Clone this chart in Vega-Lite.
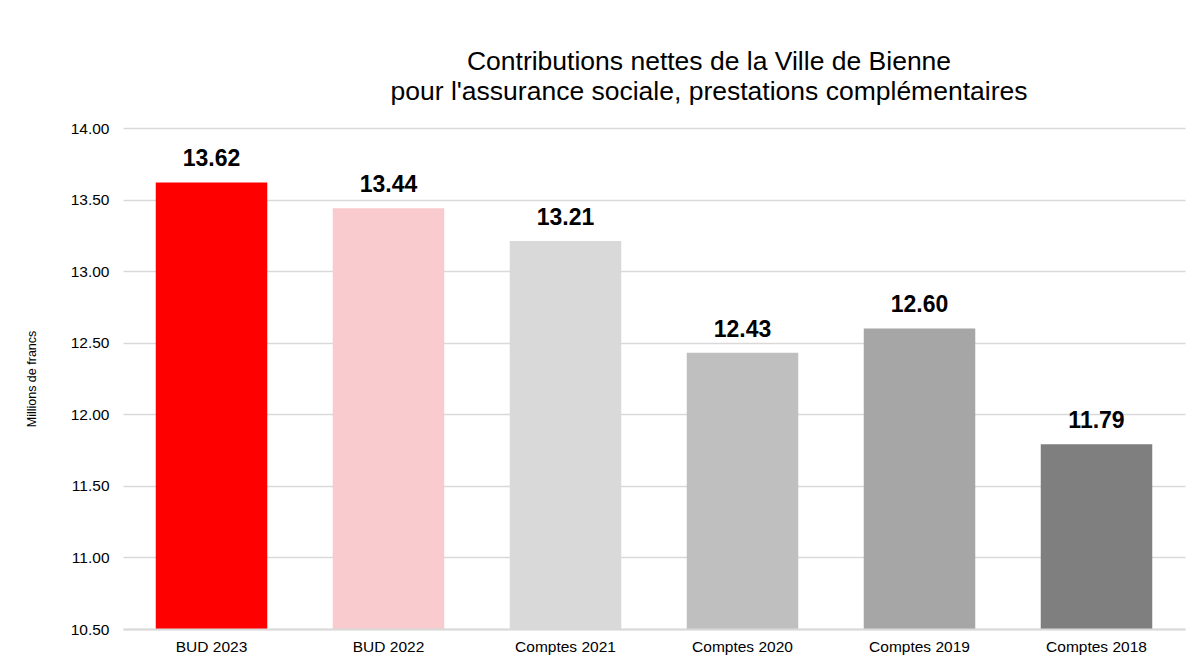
{
  "$schema": "https://vega.github.io/schema/vega-lite/v6.json",
  "autosize": "none",
  "width": 1062,
  "height": 501,
  "padding": {"left": 123, "top": 128, "right": 15, "bottom": 36},
  "background": "white",
  "config": {
    "font": "Liberation Sans",
    "view": {"stroke": null}
  },
  "title": {
    "text": ["Contributions nettes de la Ville de Bienne", "pour l'assurance sociale, prestations complémentaires"],
    "fontSize": 26.5,
    "fontWeight": "normal",
    "color": "#000000",
    "font": "Liberation Sans",
    "anchor": "middle",
    "baseline": "bottom",
    "offset": -11,
    "dx": 55,
    "lineHeight": 30
  },
  "data": {
    "values": [
      {"cat": "BUD 2023", "value": 13.62, "color": "#FF0000"},
      {"cat": "BUD 2022", "value": 13.44, "color": "#F9CACE"},
      {"cat": "Comptes 2021", "value": 13.21, "color": "#D9D9D9"},
      {"cat": "Comptes 2020", "value": 12.43, "color": "#BFBFBF"},
      {"cat": "Comptes 2019", "value": 12.60, "color": "#A6A6A6"},
      {"cat": "Comptes 2018", "value": 11.79, "color": "#7F7F7F"}
    ]
  },
  "encoding": {
    "x": {
      "field": "cat",
      "type": "nominal",
      "sort": null,
      "scale": {"paddingInner": 0.37, "paddingOuter": 0.185},
      "axis": {
        "title": null,
        "labelAngle": 0,
        "labelFontSize": 15.5,
        "labelColor": "#000000",
        "labelPadding": 10,
        "ticks": false,
        "domainColor": "#D9D9D9",
        "domainWidth": 2,
        "zindex": 1
      }
    },
    "y": {
      "field": "value",
      "type": "quantitative",
      "scale": {"domain": [10.5, 14], "zero": false, "nice": false},
      "axis": {
        "title": "Millions de francs",
        "titleFontSize": 12.5,
        "titleFontWeight": "normal",
        "titleColor": "#000000",
        "titlePadding": 32,
        "values": [10.5, 11, 11.5, 12, 12.5, 13, 13.5, 14],
        "format": ".2f",
        "labelFontSize": 15.5,
        "labelColor": "#000000",
        "labelPadding": 14,
        "ticks": false,
        "domain": false,
        "gridColor": "#D9D9D9",
        "gridWidth": 1.5
      }
    }
  },
  "layer": [
    {
      "mark": {"type": "bar"},
      "encoding": {
        "y2": {"datum": 10.5},
        "color": {"field": "color", "type": "nominal", "scale": null}
      }
    },
    {
      "mark": {"type": "text", "baseline": "alphabetic", "dy": -16, "fontSize": 23, "fontWeight": "bold", "color": "#000000"},
      "encoding": {
        "text": {"field": "value", "type": "quantitative", "format": ".2f"}
      }
    }
  ]
}
